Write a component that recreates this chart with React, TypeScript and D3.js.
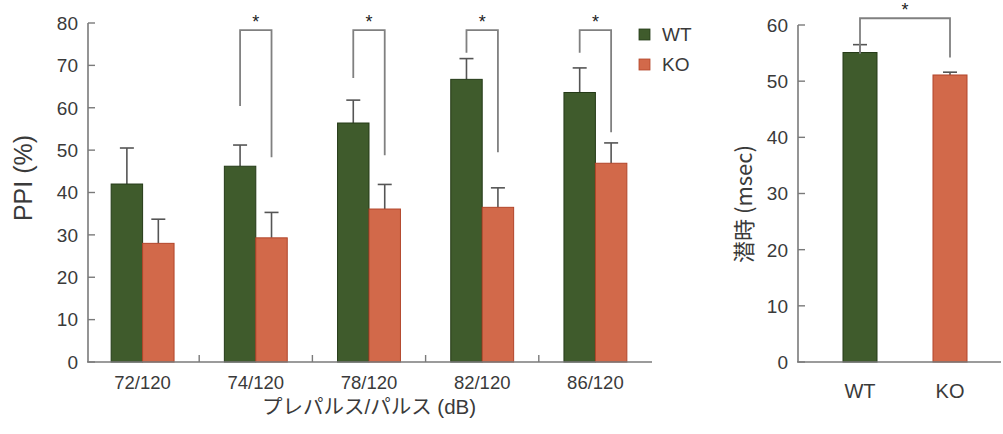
import React from "react";
import * as d3 from "d3";

const categories = ["72/120", "74/120", "78/120", "82/120", "86/120"];
const series = ["WT", "KO"];
const wtValues = [42.0, 46.2, 56.4, 66.7, 63.6];
const wtErrors = [8.5, 5.0, 5.4, 4.9, 5.8];
const koValues = [28.0, 29.3, 36.1, 36.5, 46.9];
const koErrors = [5.7, 6.0, 5.8, 4.6, 4.8];
// significance brackets: category, left-leg bottom value, right-leg bottom value
const bracketCats = ["74/120", "78/120", "82/120", "86/120"];
const bracketLeftBottom = [60.4, 67.0, 73.0, 73.0];
const bracketRightBottom = [48.3, 48.8, 49.5, 54.2];
const bracketTop = 78.3;
const leftTicks = [0, 10, 20, 30, 40, 50, 60, 70, 80];

const latencyGroups = ["WT", "KO"];
const latencyValues = [55.1, 51.1];
const latencyErrors = [1.4, 0.5];
const latencyBracketBottom = [54.9, 54.2];
const latencyBracketTop = 61.2;
const rightTicks = [0, 10, 20, 30, 40, 50, 60];

const GREEN = "#3f5b2c";
const GREEN_EDGE = "#243a17";
const ORANGE = "#d2694a";
const ORANGE_EDGE = "#b2452a";
const AXIS = "#7a7a7a";
const TEXT = "#3a3a3a";
const FONT = "'Liberation Sans', Arial, Helvetica, sans-serif";
const JFONT = "'Liberation Sans', 'Noto Sans CJK JP', sans-serif";

export default function App() {
  const y = d3.scaleLinear().domain([0, 80]).range([362, 23]);
  const x0 = d3.scaleBand<string>().domain(categories).range([86, 652]);
  const x1 = d3.scaleBand<string>().domain(series).range([0, x0.bandwidth()]).paddingOuter(0.8);
  const bw = x1.bandwidth();
  const fills: Record<string, string> = { WT: GREEN, KO: ORANGE };
  const edges: Record<string, string> = { WT: GREEN_EDGE, KO: ORANGE_EDGE };
  const vals: Record<string, number[]> = { WT: wtValues, KO: koValues };
  const errs: Record<string, number[]> = { WT: wtErrors, KO: koErrors };

  const yr = d3.scaleLinear().domain([0, 60]).range([362, 25]);
  const xr = d3.scalePoint<string>().domain(latencyGroups).range([860, 950]);
  const rbw = 34;

  const capHalf = 7;

  return (
    <svg
      width={1003}
      height={434}
      style={{ position: "absolute", left: 0, top: 0, background: "#fff" }}
    >
      {series.map((s) =>
        categories.map((c, i) => {
          const bx = (x0(c) as number) + (x1(s) as number);
          const v = vals[s][i];
          const e = errs[s][i];
          const cx = bx + bw / 2;
          return (
            <g key={s + c}>
              <line x1={cx} x2={cx} y1={y(v)} y2={y(v + e)} stroke="#555" strokeWidth={1.6} />
              <line x1={cx - capHalf} x2={cx + capHalf} y1={y(v + e)} y2={y(v + e)} stroke="#555" strokeWidth={1.6} />
              <rect x={bx} y={y(v)} width={bw} height={y(0) - y(v)} fill={fills[s]} stroke={edges[s]} strokeWidth={1} />
            </g>
          );
        })
      )}
      <line x1={88} x2={88} y1={y(80)} y2={y(0)} stroke={AXIS} strokeWidth={1.6} />
      <line x1={87} x2={652} y1={y(0)} y2={y(0)} stroke={AXIS} strokeWidth={1.6} />
      {leftTicks.map((t) => (
        <g key={"lt" + t}>
          <line x1={88} x2={95} y1={y(t)} y2={y(t)} stroke={AXIS} strokeWidth={1.4} />
          <text x={78} y={y(t)} dy="0.36em" textAnchor="end" fontFamily={FONT} fontSize={19} fill={TEXT}>
            {t}
          </text>
        </g>
      ))}
      {categories.slice(1).map((c) => (
        <line key={"xt" + c} x1={x0(c) as number} x2={x0(c) as number} y1={y(0)} y2={y(0) - 7} stroke={AXIS} strokeWidth={1.4} />
      ))}
      {categories.map((c) => (
        <text key={"xl" + c} x={(x0(c) as number) + x0.bandwidth() / 2} y={389} textAnchor="middle" fontFamily={FONT} fontSize={18.5} fill={TEXT}>
          {c}
        </text>
      ))}
      {bracketCats.map((c, i) => {
        const lx = (x0(c) as number) + (x1("WT") as number) + bw / 2;
        const rx = (x0(c) as number) + (x1("KO") as number) + bw / 2;
        return (
          <g key={"br" + c}>
            <path
              d={`M${lx},${y(bracketLeftBottom[i])}V${y(bracketTop)}H${rx}V${y(bracketRightBottom[i])}`}
              fill="none"
              stroke="#808080"
              strokeWidth={1.8}
            />
            <text x={(lx + rx) / 2} y={28} textAnchor="middle" fontFamily={FONT} fontSize={18} fill="#222">
              *
            </text>
          </g>
        );
      })}
      <text transform="translate(32,178) rotate(-90)" textAnchor="middle" fontFamily={FONT} fontSize={25} fill={TEXT}>
        PPI (%)
      </text>
      <text x={(86 + 652) / 2} y={414} textAnchor="middle" fontFamily={JFONT} fontSize={20.5} fill={TEXT}>
        プレパルス/パルス (dB)
      </text>
      {series.map((s, i) => (
        <g key={"lg" + s}>
          <rect x={639} y={29 + i * 30} width={11} height={11} fill={fills[s]} stroke={edges[s]} strokeWidth={0.8} />
          <text x={662} y={41 + i * 30} fontFamily={FONT} fontSize={19} fill={TEXT}>
            {s}
          </text>
        </g>
      ))}

      {latencyGroups.map((g, i) => {
        const cx = xr(g) as number;
        const v = latencyValues[i];
        const e = latencyErrors[i];
        return (
          <g key={"rb" + g}>
            <line x1={cx} x2={cx} y1={yr(v)} y2={yr(v + e)} stroke="#555" strokeWidth={1.6} />
            <line x1={cx - capHalf} x2={cx + capHalf} y1={yr(v + e)} y2={yr(v + e)} stroke="#555" strokeWidth={1.6} />
            <rect x={cx - rbw / 2} y={yr(v)} width={rbw} height={yr(0) - yr(v)} fill={fills[g]} stroke={edges[g]} strokeWidth={1} />
            <text x={cx} y={398} textAnchor="middle" fontFamily={FONT} fontSize={20} fill={TEXT}>
              {g}
            </text>
          </g>
        );
      })}
      <line x1={798} x2={798} y1={yr(60)} y2={yr(0)} stroke={AXIS} strokeWidth={1.6} />
      <line x1={797} x2={1001} y1={yr(0)} y2={yr(0)} stroke={AXIS} strokeWidth={1.6} />
      {rightTicks.map((t) => (
        <g key={"rt" + t}>
          <line x1={798} x2={805} y1={yr(t)} y2={yr(t)} stroke={AXIS} strokeWidth={1.4} />
          <text x={788} y={yr(t)} dy="0.36em" textAnchor="end" fontFamily={FONT} fontSize={19} fill={TEXT}>
            {t}
          </text>
        </g>
      ))}
      <path
        d={`M${xr("WT")},${yr(latencyBracketBottom[0])}V${yr(latencyBracketTop)}H${xr("KO")}V${yr(latencyBracketBottom[1])}`}
        fill="none"
        stroke="#808080"
        strokeWidth={1.8}
      />
      <text x={((xr("WT") as number) + (xr("KO") as number)) / 2} y={16} textAnchor="middle" fontFamily={FONT} fontSize={18} fill="#222">
        *
      </text>
      <text transform="translate(752,204) rotate(-90)" textAnchor="middle" fontFamily="'Noto Sans CJK JP', sans-serif" fontSize={22} fill={TEXT}>
        潜時 (msec)
      </text>
    </svg>
  );
}
